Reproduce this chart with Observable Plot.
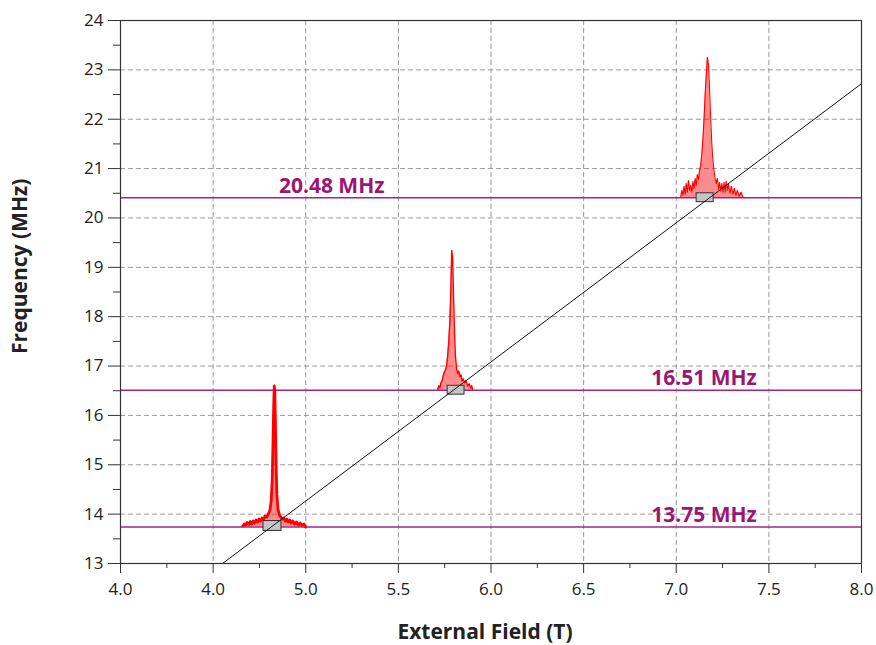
<!DOCTYPE html>
<html>
<head>
<meta charset="utf-8">
<script src="https://cdn.jsdelivr.net/npm/d3@7"></script>
<script src="https://cdn.jsdelivr.net/npm/@observablehq/plot@0.6"></script>
<style>
  body { margin: 0; background: #fff; }
</style>
</head>
<body>
<div id="chart"></div>
<script>
// ---- data ----
const xTickValues = [4.0, 4.5, 5.0, 5.5, 6.0, 6.5, 7.0, 7.5, 8.0];
const xTickLabels = ["4.0", "4.0", "5.0", "5.5", "6.0", "6.5", "7.0", "7.5", "8.0"];
const xMinorTicks = [4.25, 4.75, 5.25, 5.75, 6.25, 6.75, 7.25, 7.75];
const yTickValues = [13, 14, 15, 16, 17, 18, 19, 20, 21, 22, 23, 24];
const yMinorTicks = [13.5, 14.5, 15.5, 16.5, 17.5, 18.5, 19.5, 20.5, 21.5, 22.5, 23.5];
const xGrid = [4.5, 5.0, 5.5, 6.0, 6.5, 7.0, 7.5];
const yGrid = [14, 15, 16, 17, 18, 19, 20, 21, 22, 23];

// reference frequencies (horizontal lines) and their labels
const lineFreqs = [13.74, 16.51, 20.41];
const labelTexts = ["20.48 MHz", "16.51 MHz", "13.75 MHz"];
const labelB = [5.14, 7.15, 7.15];
const labelF = [20.64, 16.76, 13.97];

// fitted field-frequency line (endpoints)
const fitB = [4.551, 8.0];
const fitF = [13.0, 22.72];

// spectra (field T, frequency-axis value)
const peak1B = [4.660,4.668,4.676,4.684,4.692,4.700,4.708,4.716,4.724,4.732,4.740,4.748,4.756,4.764,4.772,4.780,4.790,4.800,4.808,4.814,4.819,4.823,4.827,4.830,4.833,4.836,4.840,4.844,4.850,4.858,4.866,4.874,4.882,4.890,4.898,4.906,4.914,4.922,4.930,4.940,4.950,4.960,4.970,4.980,4.990,5.000];
const peak1F = [13.76,13.80,13.78,13.83,13.79,13.85,13.80,13.86,13.82,13.88,13.84,13.90,13.86,13.92,13.88,13.96,13.94,14.02,14.10,14.30,14.70,15.40,16.20,16.60,16.50,15.90,15.00,14.40,14.10,13.98,13.94,13.90,13.92,13.86,13.90,13.84,13.88,13.82,13.86,13.80,13.84,13.78,13.82,13.77,13.80,13.74];
const peak1Base = 13.74;

const peak2B = [5.712,5.718,5.724,5.730,5.736,5.742,5.748,5.754,5.760,5.766,5.772,5.778,5.783,5.788,5.793,5.798,5.803,5.808,5.814,5.820,5.826,5.832,5.838,5.844,5.850,5.858,5.866,5.874,5.882,5.890,5.896,5.901];
const peak2F = [16.52,16.60,16.56,16.66,16.70,16.80,16.88,16.92,17.00,17.20,17.50,17.90,18.50,19.34,19.20,18.40,17.70,17.20,16.95,16.85,16.90,16.78,16.82,16.70,16.74,16.66,16.70,16.60,16.64,16.56,16.60,16.52];
const peak2Base = 16.51;

const peak3B = [7.024,7.030,7.036,7.042,7.048,7.054,7.060,7.066,7.072,7.078,7.084,7.090,7.096,7.102,7.108,7.114,7.120,7.126,7.132,7.138,7.144,7.150,7.156,7.162,7.168,7.174,7.180,7.186,7.192,7.198,7.204,7.210,7.216,7.222,7.228,7.234,7.240,7.246,7.252,7.258,7.264,7.270,7.276,7.282,7.290,7.298,7.306,7.314,7.322,7.330,7.340,7.350,7.360,7.369];
const peak3F = [20.42,20.56,20.46,20.64,20.48,20.70,20.52,20.76,20.56,20.66,20.52,20.74,20.60,20.80,20.66,20.88,20.78,20.96,21.06,21.30,21.60,22.00,22.50,22.90,23.25,23.10,22.60,22.00,21.50,21.15,20.95,20.80,20.70,20.80,20.58,20.72,20.54,20.70,20.52,20.72,20.52,20.74,20.56,20.68,20.50,20.64,20.48,20.60,20.46,20.56,20.44,20.52,20.42,20.41];
const peak3Base = 20.41;

// small boxes at the resonance positions
const boxB1 = [4.772, 5.766, 7.110];
const boxB2 = [4.869, 5.857, 7.202];
const boxF1 = [13.66, 16.42, 20.32];
const boxF2 = [13.86, 16.60, 20.50];

// ---- build tables ----
const mk = (B, F, base) => B.map((b, i) => ({b, f: F[i], base}));
const peaks = [
  {rows: mk(peak1B, peak1F, peak1Base), sw: 2.8},
  {rows: mk(peak2B, peak2F, peak2Base), sw: 1.4},
  {rows: mk(peak3B, peak3F, peak3Base), sw: 1.1}
];
const boxes = boxB1.map((b, i) => ({b1: b, b2: boxB2[i], f1: boxF1[i], f2: boxF2[i]}));
const fitLine = fitB.map((b, i) => ({b, f: fitF[i]}));
const labels = labelTexts.map((t, i) => ({t, b: labelB[i], f: labelF[i]}));

const purple = "#a3248c";
const labelColor = "#9c1674";
const font = "'Open Sans', sans-serif";

const marks = [
  Plot.gridX(xGrid, {stroke: "#9a9a9a", strokeOpacity: 1, strokeDasharray: "5,3", strokeWidth: 1}),
  Plot.gridY(yGrid, {stroke: "#9a9a9a", strokeOpacity: 1, strokeDasharray: "5,3", strokeWidth: 1}),
  Plot.ruleY(lineFreqs, {stroke: purple, strokeWidth: 1.4}),
];
for (const p of peaks) {
  marks.push(Plot.areaY(p.rows, {x: "b", y1: "base", y2: "f", fill: "#ff0000", fillOpacity: 0.45, curve: "linear"}));
  marks.push(Plot.line(p.rows, {x: "b", y: "f", stroke: "#ff0000", strokeWidth: p.sw, strokeLinejoin: "round"}));
}
marks.push(
  Plot.rect(boxes, {x1: "b1", x2: "b2", y1: "f1", y2: "f2", fill: "#c4c4c8", stroke: "#333", strokeWidth: 1}),
  Plot.line(fitLine, {x: "b", y: "f", stroke: "#111", strokeWidth: 1}),
  Plot.text(labels, {x: "b", y: "f", text: "t", fill: labelColor, fontSize: 21, fontWeight: "bold", fontFamily: font}),
  Plot.frame({stroke: "#333", strokeWidth: 1.2}),
  Plot.axisX({ticks: xTickValues, tickSize: 10, tickPadding: 9, tickFormat: (d, i) => xTickLabels[i], label: null, stroke: "#333"}),
  Plot.axisX({ticks: xMinorTicks, tickSize: 5, tickFormat: () => "", label: null, stroke: "#333"}),
  Plot.axisY({ticks: yTickValues, tickSize: 12, tickPadding: 5, tickFormat: d => String(d), label: null, stroke: "#333"}),
  Plot.axisY({ticks: yMinorTicks, tickSize: 7, tickFormat: () => "", label: null, stroke: "#333"}),
  Plot.text(["External Field (T)"], {frameAnchor: "bottom", dx: -6, dy: 75, text: d => d, fontSize: 21, fontWeight: "bold", fill: "#222", fontFamily: font}),
  Plot.text(["Frequency (MHz)"], {frameAnchor: "left", dx: -100, dy: 62, rotate: -90, text: d => d, fontSize: 21, fontWeight: "bold", fill: "#222", fontFamily: font})
);

const chart = Plot.plot({
  width: 876,
  height: 645,
  marginLeft: 120,
  marginRight: 15,
  marginTop: 20,
  marginBottom: 82,
  x: {domain: [4.0, 8.0]},
  y: {domain: [13, 24]},
  style: {fontFamily: font, fontSize: "17px", color: "#222", background: "#fff", overflow: "visible"},
  marks
});
document.getElementById("chart").appendChild(chart);
</script>
</body>
</html>
